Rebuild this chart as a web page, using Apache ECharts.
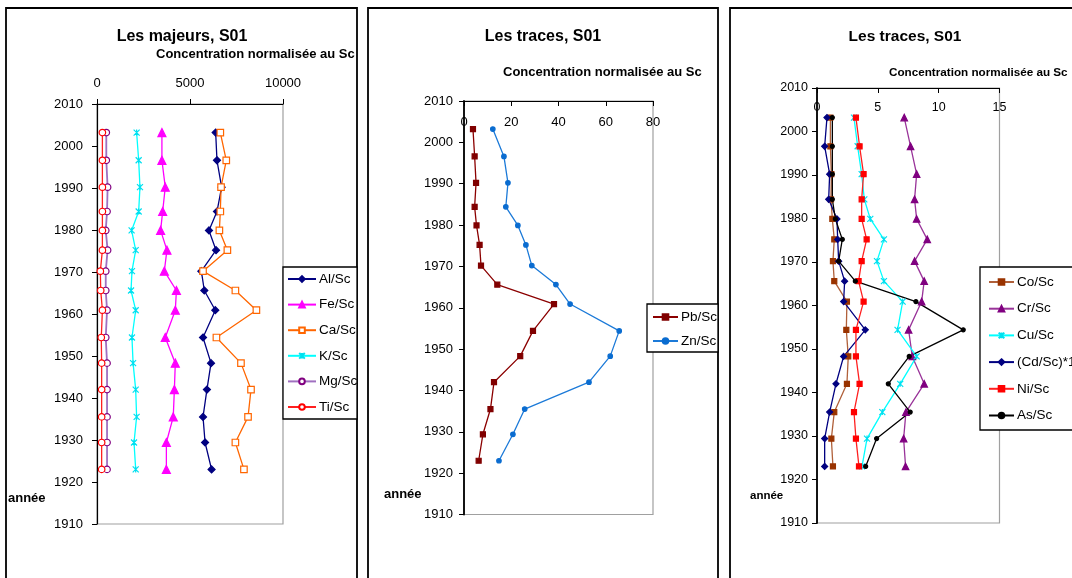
<!DOCTYPE html>
<html>
<head>
<meta charset="utf-8">
<script src="https://cdn.jsdelivr.net/npm/echarts@6/dist/echarts.min.js"></script>
<style>html,body{margin:0;padding:0;background:#fff}#c{width:1072px;height:578px}</style>
</head>
<body>
<div id="c"></div>
<script>
// ---- data ----
const years = [2003.2, 1996.6, 1990.2, 1984.4, 1979.9, 1975.2, 1970.2, 1965.6, 1960.9, 1954.4, 1948.3, 1942.0, 1935.5, 1929.4, 1923.0];
const yTicks = [1910, 2010, 10];

const alSc = [6380, 6450, 6700, 6450, 6020, 6400, 5610, 5770, 6360, 5700, 6130, 5910, 5700, 5810, 6160];
const feSc = [3490, 3490, 3670, 3530, 3420, 3760, 3620, 4270, 4210, 3670, 4210, 4160, 4100, 3730, 3730];
const caSc = [6630, 6950, 6670, 6630, 6580, 7010, 5700, 7440, 8570, 6420, 7740, 8280, 8120, 7440, 7900];
const kSc  = [2130, 2240, 2310, 2240, 1860, 2080, 1880, 1830, 2080, 1880, 1940, 2080, 2130, 1990, 2080];
const mgSc = [500, 500, 570, 540, 470, 570, 470, 470, 540, 470, 540, 540, 540, 540, 540];
const tiSc = [290, 290, 290, 290, 290, 290, 180, 200, 290, 230, 250, 250, 250, 250, 250];

const pbSc = [3.8, 4.5, 5.1, 4.5, 5.3, 6.6, 7.2, 14.1, 38.1, 29.2, 23.8, 12.7, 11.2, 8.0, 6.2];
const znSc = [12.2, 16.9, 18.6, 17.7, 22.8, 26.2, 28.7, 38.9, 44.9, 65.7, 61.9, 52.9, 25.7, 20.7, 14.8];

const coSc   = [1.10, 1.10, 1.18, 1.15, 1.26, 1.42, 1.31, 1.42, 2.46, 2.41, 2.57, 2.46, 1.42, 1.18, 1.31];
const crSc   = [7.17, 7.69, 8.19, 8.02, 8.19, 9.06, 8.02, 8.81, 8.60, 7.53, 7.83, 8.81, 7.31, 7.12, 7.28];
const cuSc   = [3.04, 3.34, 3.67, 3.89, 4.38, 5.50, 4.93, 5.50, 7.04, 6.62, 8.19, 6.84, 5.37, 4.11, 3.70];
const cdSc10 = [0.82, 0.63, 1.04, 0.96, 1.64, 1.70, 1.78, 2.27, 2.19, 3.97, 2.19, 1.56, 1.04, 0.63, 0.63];
const niSc   = [3.20, 3.50, 3.83, 3.67, 3.67, 4.08, 3.67, 3.42, 3.83, 3.20, 3.20, 3.50, 3.04, 3.20, 3.45];
const asSc   = [1.26, 1.26, 1.26, 1.26, 1.51, 2.08, 1.78, 3.15, 8.13, 12.02, 7.58, 5.86, 7.66, 4.90, 4.00];

const xTicks1 = [0, 10000, 5000];
const xTicks2 = [0, 80, 20];
const xTicks3 = [0, 15, 5];

const names1 = ['Al/Sc', 'Fe/Sc', 'Ca/Sc', 'K/Sc', 'Mg/Sc', 'Ti/Sc'];
const names2 = ['Pb/Sc', 'Zn/Sc'];
const names3 = ['Co/Sc', 'Cr/Sc', 'Cu/Sc', '(Cd/Sc)*10', 'Ni/Sc', 'As/Sc'];

// ---- chart ----
const FONT = 'Liberation Sans, Arial, sans-serif';
const chart = echarts.init(document.getElementById('c'), null, {renderer: 'canvas'});
const pts = v => v.map((x, i) => [x, years[i]]);
const STAR = 'path://M0,0L10,10M10,0L0,10M5,0L5,10';
const plain = v => String(v);

function mk(name, vals, gi, lineColor, symbol, size, fill, border, lw) {
  return {
    name, type: 'line', xAxisIndex: gi, yAxisIndex: gi, data: pts(vals),
    symbol, symbolSize: size, showSymbol: true,
    lineStyle: {color: lineColor, width: lw || 1.3},
    itemStyle: {color: fill, borderColor: border, borderWidth: 1.2},
    emphasis: {disabled: true}, z: 3
  };
}

function xAx(gi, t, inside, margin) {
  return {
    type: 'value', gridIndex: gi, position: 'top', min: t[0], max: t[1], interval: t[2],
    splitLine: {show: false},
    axisLine: {show: true, onZero: false, lineStyle: {color: '#000', width: 1.2}},
    axisTick: {show: true, inside: inside, length: 5, lineStyle: {color: '#000'}},
    axisLabel: {inside: inside, margin: margin, color: '#000', fontSize: gi === 2 ? 12.5 : 13, fontFamily: FONT, formatter: plain}
  };
}
function yAx(gi, margin, fs) {
  return {
    type: 'value', gridIndex: gi, min: yTicks[0], max: yTicks[1], interval: yTicks[2],
    splitLine: {show: false},
    axisLine: {show: true, onZero: false, lineStyle: {color: '#000', width: gi === 0 ? 1.2 : 1.8}},
    axisTick: {show: true, length: 5, lineStyle: {color: '#000'}},
    axisLabel: {margin: margin, color: '#000', fontSize: fs, fontFamily: FONT, formatter: plain}
  };
}

function legend(names, left, top, gap, iw) {
  return {
    data: names, orient: 'vertical', left, top, itemGap: gap, itemWidth: iw, itemHeight: 7,
    padding: 0, selectedMode: false, z: 20,
    textStyle: {fontSize: 13.5, fontFamily: FONT, color: '#000', lineHeight: 14, padding: [0, 0, 0, -2]}
  };
}

const txt = (x, y, text, size, bold, align) => ({
  type: 'text', x, y, z: 30,
  style: {text, font: (bold ? 'bold ' : '') + size + 'px ' + FONT, fill: '#000',
          textAlign: align || 'left', textVerticalAlign: 'middle'}
});
const box = (x, y, w, h, lw, z) => ({
  type: 'rect', shape: {x, y, width: w, height: h}, z: z,
  style: {fill: z > 5 ? '#fff' : 'none', stroke: '#000', lineWidth: lw}
});

const option = {
  animation: false,
  backgroundColor: '#fff',
  grid: [
    {left: 97, top: 104, width: 186, height: 420, show: true, borderColor: '#a0a0a0', borderWidth: 1.2, backgroundColor: 'transparent'},
    {left: 464, top: 101, width: 189, height: 413.5, show: true, borderColor: '#a0a0a0', borderWidth: 1.2, backgroundColor: 'transparent'},
    {left: 817, top: 88, width: 182.5, height: 435, show: true, borderColor: '#a0a0a0', borderWidth: 1.2, backgroundColor: 'transparent'}
  ],
  xAxis: [xAx(0, xTicks1, false, 14), xAx(1, xTicks2, true, 15), xAx(2, xTicks3, true, 13)],
  yAxis: [yAx(0, 14, 13), yAx(1, 11, 13), yAx(2, 9, 12.5)],
  legend: [
    legend(names1, 287, 272, 11.6, 28),
    legend(names2, 652, 310, 10, 25),
    legend(names3, 988, 275, 12.7, 25)
  ],
  series: [
    mk(names1[0], alSc, 0, '#000080', 'diamond', 7, '#000080', '#000080'),
    mk(names1[1], feSc, 0, '#FF00FF', 'triangle', 8, '#FF00FF', '#FF00FF'),
    mk(names1[2], caSc, 0, '#FF6600', 'rect', 6.5, '#fff', '#FF6600'),
    mk(names1[3], kSc, 0, '#00FFFF', STAR, 6, 'none', '#00E0F0'),
    mk(names1[4], mgSc, 0, '#A070C0', 'circle', 6.5, '#fff', '#800080', 1.8),
    mk(names1[5], tiSc, 0, '#FF2020', 'circle', 6.5, '#fff', '#FF0000'),

    mk(names2[0], pbSc, 1, '#8B0000', 'rect', 5, '#800000', '#800000'),
    mk(names2[1], znSc, 1, '#1C7AD8', 'circle', 4.5, '#0A6CD0', '#0A6CD0'),

    mk(names3[0], coSc, 2, '#B0603A', 'rect', 5, '#993300', '#993300'),
    mk(names3[1], crSc, 2, '#993399', 'triangle', 6.5, '#800080', '#800080'),
    mk(names3[2], cuSc, 2, '#00FFFF', STAR, 6, 'none', '#00E0F0'),
    mk(names3[3], cdSc10, 2, '#000080', 'diamond', 6, '#000080', '#000080'),
    mk(names3[4], niSc, 2, '#FF2020', 'rect', 5, '#FF0000', '#FF0000'),
    mk(names3[5], asSc, 2, '#000000', 'circle', 4, '#000', '#000')
  ],
  graphic: [
    box(6, 8, 351, 600, 1.8, 1),
    box(368, 8, 350, 600, 1.8, 1),
    box(730, 8, 400, 600, 1.8, 1),
    box(283, 267, 74, 152, 1.3, 10),
    box(647, 304, 71, 48, 1.3, 10),
    box(980, 267, 120, 163, 1.3, 10),
    txt(182, 37, 'Les majeurs, S01', 16, true, 'center'),
    txt(156, 54, 'Concentration normalisée au Sc', 13, true, 'left'),
    txt(8, 498, 'année', 13, true, 'left'),
    txt(543, 37, 'Les traces, S01', 16, true, 'center'),
    txt(503, 72, 'Concentration normalisée au Sc', 13, true, 'left'),
    txt(384, 494, 'année', 13, true, 'left'),
    txt(905, 37, 'Les traces, S01', 15.5, true, 'center'),
    txt(889, 73, 'Concentration normalisée au Sc', 11.7, true, 'left'),
    txt(750, 496, 'année', 11.5, true, 'left')
  ]
};
chart.setOption(option);
</script>
</body>
</html>
